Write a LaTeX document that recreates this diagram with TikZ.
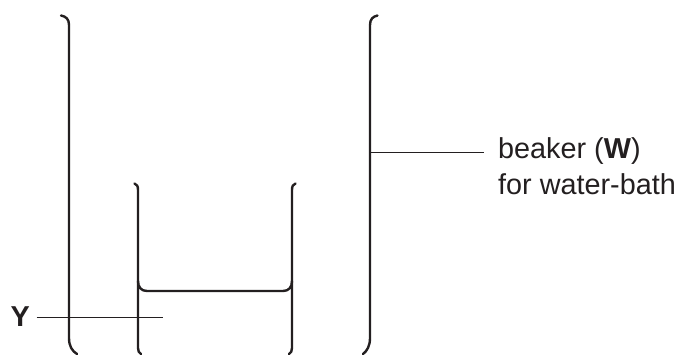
\documentclass[tikz,border=0pt]{standalone}
\usepackage{fontspec}
\setmainfont{Liberation Sans}
\definecolor{ink}{HTML}{231F20}
\tikzset{
  wall/.style={draw=ink,line width=2.4pt,line cap=round},
  leader/.style={draw=ink,line width=1pt},
  lab/.style={text=ink,font=\fontsize{28.8}{36}\selectfont,inner sep=0pt,anchor=base west}
}
\begin{document}
\begin{tikzpicture}[x=1pt,y=-1pt]
\useasboundingbox (0,0) rectangle (679,354);
% outer beaker
\draw[wall] (61,15.5) .. controls (66,16.5) and (69,19) .. (69,25) -- (69,338) .. controls (69,346) and (72,351) .. (77,354);
\draw[wall] (377.5,15.5) .. controls (373,16.5) and (370,19) .. (370,25) -- (370,338) .. controls (370,346) and (367,351) .. (363,354);
% inner beaker
\draw[wall] (134.5,183.5) .. controls (137,184.5) and (138,186) .. (138,190) -- (138,348) .. controls (138,351) and (139,353) .. (141,354);
\draw[wall] (295.5,183.5) .. controls (293,184.5) and (292,186) .. (292,190) -- (292,348) .. controls (292,351) and (291,353) .. (289,354);
\draw[wall] (138,281) .. controls (138,287) and (141,291) .. (147,291) -- (283,291) .. controls (289,291) and (292,287) .. (292,281);
% labels
\node[lab] (w1) at (498,158) {beaker (\textbf{W})};
\node[lab] (w2) at (498,194) {for water-bath};
\node[lab] (y) at (10.5,326) {\textbf{Y}};
\coordinate (wend) at (370,152);
\coordinate (yend) at (163,317);
\draw[leader] (wend) -- (484,152);
\draw[leader] (36.5,317) -- (yend);
\end{tikzpicture}
\end{document}
